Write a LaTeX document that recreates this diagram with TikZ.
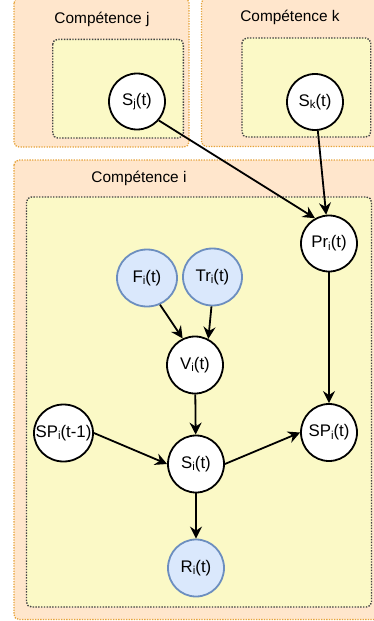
\documentclass[tikz,border=0pt]{standalone}
\usepackage{fontspec}
\setmainfont{Liberation Sans}
\usetikzlibrary{shapes.geometric,arrows.meta}
\definecolor{outerfill}{HTML}{FFE6CC}
\definecolor{outerdraw}{HTML}{E6A33A}
\definecolor{innerfill}{HTML}{FBF9C6}
\definecolor{innerdraw}{HTML}{444444}
\definecolor{bluefill}{HTML}{DAE8FC}
\definecolor{bluedraw}{HTML}{6C8EBF}
\newcommand\ctext[1]{\makebox[0pt][c]{#1}}
\newcommand\sub[1]{\raisebox{-2.5pt}{\fontsize{11.5}{12}\selectfont #1}}
\tikzset{
 outerbox/.style={fill=outerfill, draw=outerdraw, line width=1.3pt, dash pattern=on 1.3pt off 1.3pt, rounded corners=5pt},
 innerbox/.style={fill=innerfill, draw=innerdraw, line width=1.4pt, dash pattern=on 1.4pt off 1.4pt, rounded corners=5pt},
 boxlabel/.style={font=\fontsize{15.4}{18}\selectfont, inner sep=0pt, anchor=center},
 var/.style={ellipse, draw=black, fill=white, line width=1.8pt, minimum width=56pt, minimum height=56pt, inner sep=0pt, font=\fontsize{16.8}{20}\selectfont},
 obs/.style={var, draw=bluedraw, fill=bluefill},
 link/.style={line width=1.8pt, -{Stealth[length=12pt,width=12pt,inset=4pt]}},
}
\begin{document}
\begin{tikzpicture}[x=1pt,y=-1pt]
\useasboundingbox (0,0) rectangle (374,621);
\clip (0,0) rectangle (374,621);
% containers
\draw[outerbox] (14,-2) rectangle (189,147);
\draw[outerbox] (201.5,-2) rectangle (384,146.5);
\draw[outerbox] (14,160) rectangle (384,619.5);
\draw[innerbox] (52.7,39.3) rectangle (183.3,138);
\draw[innerbox] (242,38) rectangle (370.7,137);
\draw[innerbox] (26.5,197) rectangle (371.5,607);
\node[boxlabel] (lj) at (102,19) {Compétence j};
\node[boxlabel] (lk) at (290,17.5) {Compétence k};
\node[boxlabel] (li) at (139,178.5) {Compétence i};
% variables
\node[var] (Sj) at (137,101.5) {\ctext{S\sub{j}(t)}};
\node[var] (Sk) at (315,102) {\ctext{S\sub{k}(t)}};
\node[var] (Pr) at (329,243.5) {\ctext{Pr\sub{i}(t)}};
\node[obs, minimum width=60pt, minimum height=57pt] (F) at (147,278) {\ctext{F\sub{i}(t)}};
\node[obs, minimum width=59pt, minimum height=57pt] (Tr) at (212.5,277) {\ctext{Tr\sub{i}(t)}};
\node[var, minimum height=57pt] (V) at (195,365) {\ctext{V\sub{i}(t)}};
\node[var, minimum height=57pt] (SP) at (329,432.5) {\ctext{SP\sub{i}(t)}};
\node[var, minimum width=59pt, minimum height=57pt] (SPm) at (63.5,433) {\ctext{SP\sub{i}(t-1)}};
\node[var, minimum height=57pt] (S) at (196,464) {\ctext{S\sub{i}(t)}};
\node[obs, minimum height=57pt] (R) at (196,568) {\ctext{R\sub{i}(t)}};
% links
\draw[link] (Sj.-41) -- (Pr.119);
\draw[link] (Sk) -- (Pr);
\draw[link] (F.-64) -- (V.115);
\draw[link] (Tr.-92) -- (V.63);
\draw[link] (V) -- (S);
\draw[link] (SPm.east) -- (S.west);
\draw[link] (S.east) -- (SP.west);
\draw[link] (Pr) -- (SP);
\draw[link] (S) -- (R);
\end{tikzpicture}
\end{document}
